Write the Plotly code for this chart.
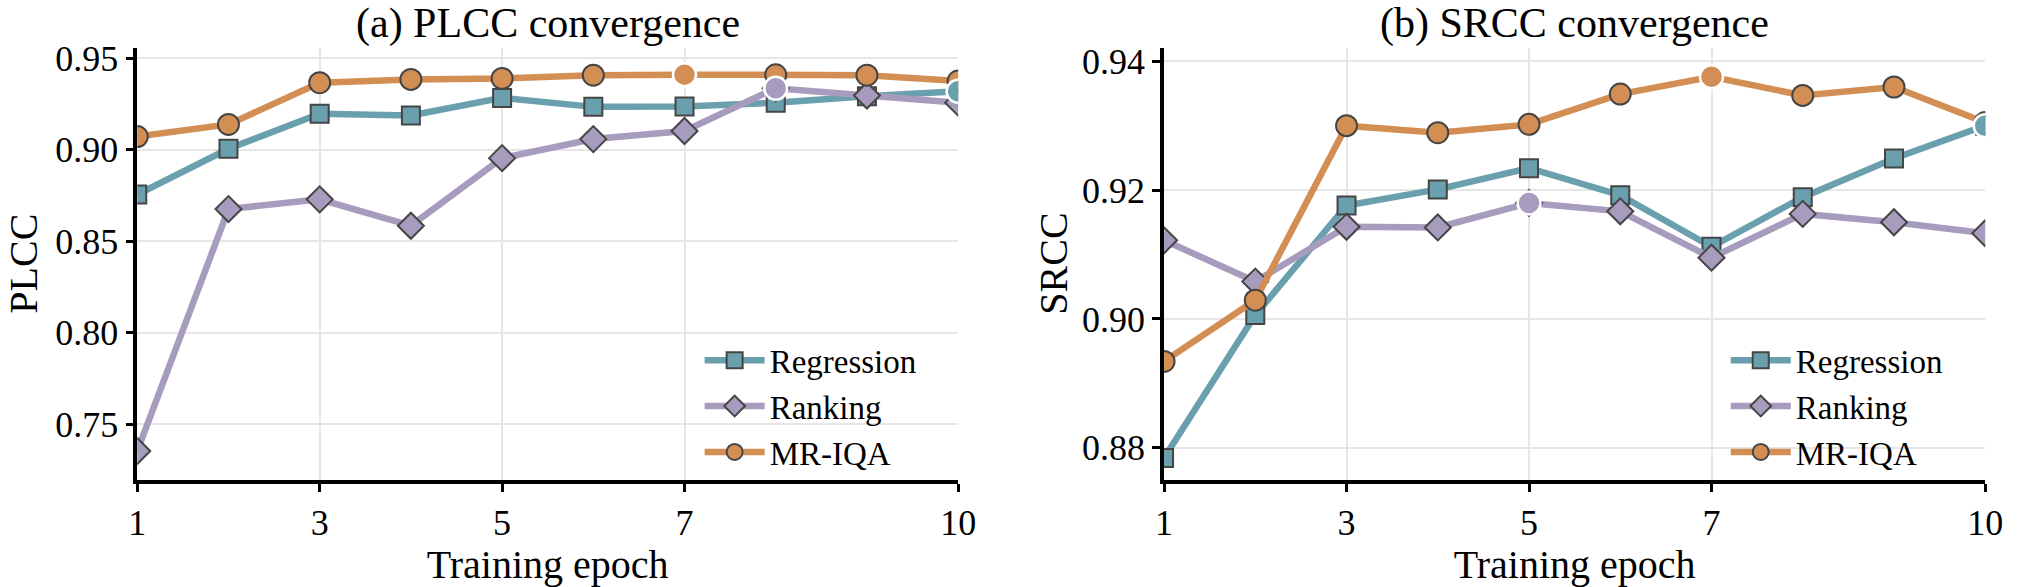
import plotly.graph_objects as go

# ---------------- data ----------------
epochs = [1, 2, 3, 4, 5, 6, 7, 8, 9, 10]
series_names = ["Regression", "Ranking", "MR-IQA"]

plcc_regression = [0.8755, 0.9005, 0.9196, 0.9187, 0.9283, 0.9234, 0.9236, 0.9257, 0.9292, 0.9319]
plcc_ranking = [0.7355, 0.8676, 0.8729, 0.8585, 0.8954, 0.9058, 0.9102, 0.9336, 0.9296, 0.9257]
plcc_mriqa = [0.9072, 0.9138, 0.9366, 0.9384, 0.9389, 0.9407, 0.9410, 0.9409, 0.9407, 0.9375]

srcc_regression = [0.8784, 0.9006, 0.9176, 0.9201, 0.9234, 0.9192, 0.9112, 0.9189, 0.9249, 0.9300]
srcc_ranking = [0.9122, 0.9058, 0.9143, 0.9142, 0.9180, 0.9167, 0.9095, 0.9163, 0.9150, 0.9133]
srcc_mriqa = [0.8934, 0.9029, 0.9300, 0.9289, 0.9302, 0.9349, 0.9376, 0.9347, 0.9360, 0.9305]

x_ticks = [1, 3, 5, 7, 10]
plcc_ticks = [0.75, 0.80, 0.85, 0.90, 0.95]
srcc_ticks = [0.88, 0.90, 0.92, 0.94]

panel_titles = ["(a) PLCC convergence", "(b) SRCC convergence"]
y_titles = ["PLCC", "SRCC"]
x_title = "Training epoch"

# ---------------- style ----------------
colors = {"Regression": "#6A9FAE", "Ranking": "#A79BBE", "MR-IQA": "#D38F53"}
symbols = {"Regression": "square", "Ranking": "diamond", "MR-IQA": "circle"}
sizes = {"Regression": 18, "Ranking": 20, "MR-IQA": 21}
FONT = "Liberation Serif, Times New Roman, serif"
W, H = 2020, 587

fig = go.Figure()

panels = [
    (plcc_regression, plcc_ranking, plcc_mriqa, "x", "y", "legend"),
    (srcc_regression, srcc_ranking, srcc_mriqa, "x2", "y2", "legend2"),
]

for reg, rnk, mr, xa, ya, lg in panels:
    data = {"Regression": reg, "Ranking": rnk, "MR-IQA": mr}
    for name in series_names:
        fig.add_trace(go.Scatter(
            x=epochs, y=data[name], name=name, mode="lines+markers",
            xaxis=xa, yaxis=ya, legend=lg,
            line=dict(color=colors[name], width=6.5),
            marker=dict(symbol=symbols[name], size=sizes[name], color=colors[name],
                        line=dict(color="#454545", width=2)),
            showlegend=True, cliponaxis=True,
        ))
    # highlight best epoch of each series
    for name in series_names:
        vals = data[name]
        i = max(range(len(vals)), key=lambda k: vals[k])
        fig.add_trace(go.Scatter(
            x=[epochs[i]], y=[vals[i]], mode="markers", xaxis=xa, yaxis=ya,
            marker=dict(symbol="circle", size=23, color=colors[name],
                        line=dict(color="white", width=2.5)),
            showlegend=False, hoverinfo="skip", cliponaxis=True,
        ))

def px_x(p):
    return p / W

def px_y(p):
    return 1 - p / H

ydom = [px_y(486.7), px_y(40)]
xdoms = [[px_x(130), px_x(962)], [px_x(1170.7), px_x(2003)]]

axis_common = dict(
    showline=True, linecolor="black", linewidth=3.5,
    ticks="outside", ticklen=8, tickwidth=3, tickcolor="black",
    showgrid=True, gridcolor="#E6E6E6", gridwidth=2,
    zeroline=False, mirror=False,
    tickfont=dict(family=FONT, size=36, color="black"),
)
title_font = dict(family=FONT, size=40, color="black")

fig.update_layout(
    width=W, height=H,
    margin=dict(l=0, r=0, t=0, b=0),
    paper_bgcolor="white", plot_bgcolor="white",
    font=dict(family=FONT, color="black"),
    xaxis=dict(domain=xdoms[0], range=[1, 10], tickvals=x_ticks, anchor="y",
               title=dict(text=x_title, font=title_font, standoff=16),
               **axis_common),
    yaxis=dict(domain=ydom, range=[0.7197, 0.9557], tickvals=plcc_ticks, tickformat=".2f",
               anchor="x", **axis_common),
    xaxis2=dict(domain=xdoms[1], range=[1, 10], tickvals=x_ticks, anchor="y2",
                title=dict(text=x_title, font=title_font, standoff=16),
                **axis_common),
    yaxis2=dict(domain=ydom, range=[0.875, 0.9421], tickvals=srcc_ticks, tickformat=".2f",
                anchor="x2", **axis_common),
    legend=dict(x=px_x(700), y=px_y(334), xanchor="left", yanchor="top",
                bgcolor="rgba(0,0,0,0)", font=dict(family=FONT, size=33),
                itemwidth=60, tracegroupgap=0),
    legend2=dict(x=px_x(1740), y=px_y(334), xanchor="left", yanchor="top",
                 bgcolor="rgba(0,0,0,0)", font=dict(family=FONT, size=33),
                 itemwidth=60, tracegroupgap=0),
    showlegend=True,
)

# panel titles
for k, t in enumerate(panel_titles):
    fig.add_annotation(
        text=t, xref="paper", yref="paper",
        x=(xdoms[k][0] + xdoms[k][1]) / 2, y=px_y(15),
        xanchor="center", yanchor="middle", showarrow=False,
        font=dict(family=FONT, size=42, color="black"),
    )

# y-axis titles (rotated)
ylabel_x = [15, 1059]
for k, t in enumerate(y_titles):
    fig.add_annotation(
        text=t, xref="paper", yref="paper", textangle=-90,
        x=px_x(ylabel_x[k]), y=(ydom[0] + ydom[1]) / 2,
        xanchor="center", yanchor="middle", showarrow=False,
        font=title_font,
    )

fig.write_html("out.html")
